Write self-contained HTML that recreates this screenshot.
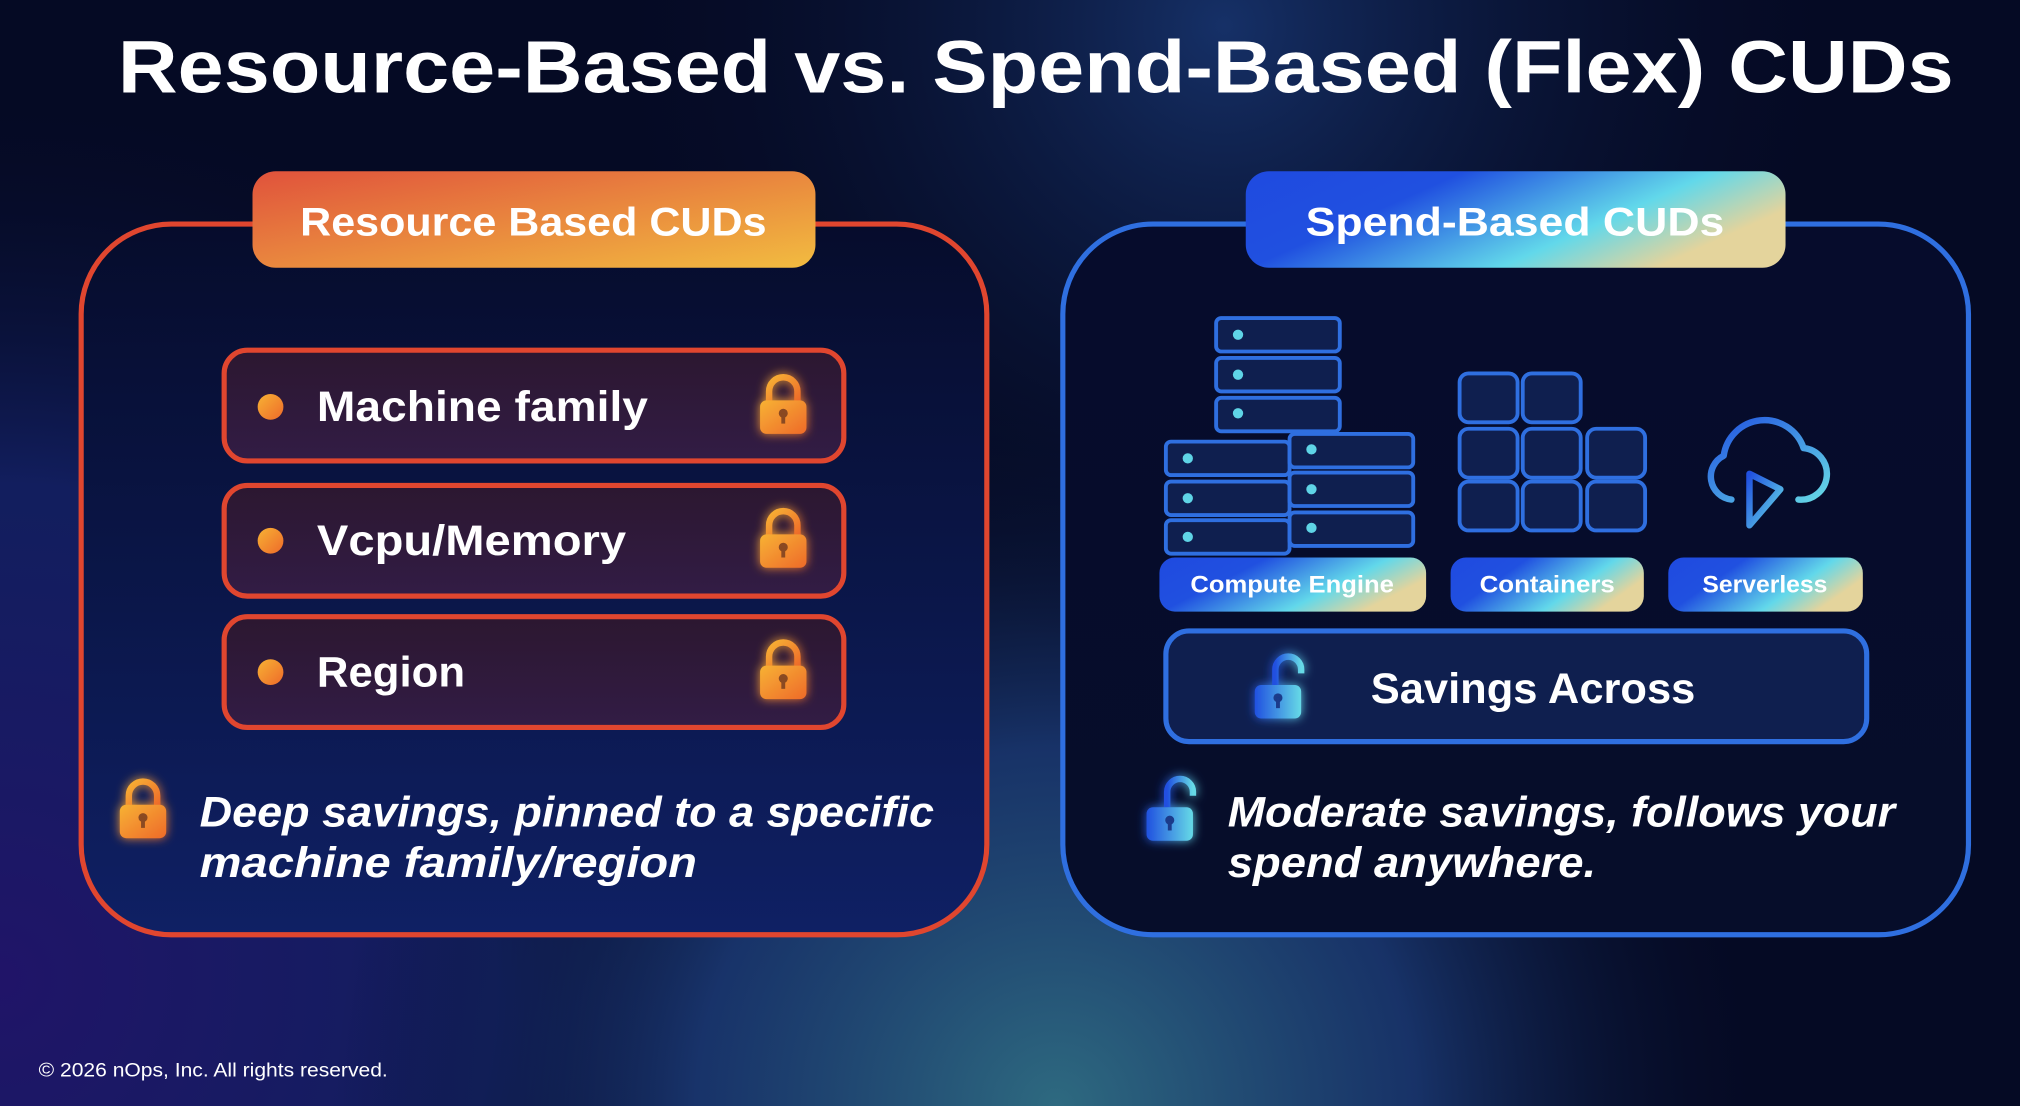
<!DOCTYPE html>
<html><head><meta charset="utf-8"><style>
html,body{margin:0;padding:0;background:#050a24;overflow:hidden}
svg{display:block}
text{font-family:"Liberation Sans",sans-serif;fill:#fff;font-weight:bold}
</style></head><body>
<svg width="2020" height="1106" viewBox="0 0 1568 859" preserveAspectRatio="none" xmlns="http://www.w3.org/2000/svg">
<defs>
<radialGradient id="bgTeal" cx="820" cy="860" r="560" gradientUnits="userSpaceOnUse">
<stop offset="0" stop-color="#2e6a80"/><stop offset="0.5" stop-color="#1c3c78" stop-opacity="0.8"/><stop offset="1" stop-color="#050a24" stop-opacity="0"/></radialGradient>
<radialGradient id="bgPurple" cx="0" cy="760" r="700" gradientUnits="userSpaceOnUse">
<stop offset="0" stop-color="#201468"/><stop offset="0.55" stop-color="#15236c" stop-opacity="0.8"/><stop offset="1" stop-color="#050a24" stop-opacity="0"/></radialGradient>
<radialGradient id="bgTop" cx="950" cy="20" r="500" gradientUnits="userSpaceOnUse">
<stop offset="0" stop-color="#1a3a78" stop-opacity="0.8"/><stop offset="1" stop-color="#050a24" stop-opacity="0"/></radialGradient>
<linearGradient id="gOr" x1="0" y1="0" x2="1" y2="1"><stop offset="0" stop-color="#e0523c"/><stop offset="1" stop-color="#f2bc40"/></linearGradient>
<linearGradient id="gBl" x1="0" y1="0" x2="1" y2="0.4"><stop offset="0" stop-color="#1f4ae0"/><stop offset="0.35" stop-color="#2050e0"/><stop offset="0.75" stop-color="#62d8ea"/><stop offset="1" stop-color="#e4d49c"/></linearGradient>
<linearGradient id="gLock" x1="0" y1="0" x2="1" y2="1"><stop offset="0" stop-color="#f7b234"/><stop offset="1" stop-color="#ee6a2a"/></linearGradient>
<linearGradient id="gLockB" x1="0" y1="0" x2="1" y2="0"><stop offset="0" stop-color="#2050e0"/><stop offset="1" stop-color="#66dae6"/></linearGradient>
<linearGradient id="gCloud" x1="0" y1="0" x2="1" y2="1"><stop offset="0" stop-color="#2050e0"/><stop offset="1" stop-color="#66dae6"/></linearGradient>
<linearGradient id="gItem" x1="0" y1="0" x2="0" y2="1"><stop offset="0" stop-color="#2c1730"/><stop offset="1" stop-color="#321c45"/></linearGradient>
<linearGradient id="gPanelL" x1="0" y1="0" x2="0" y2="1"><stop offset="0" stop-color="#060c2c"/><stop offset="1" stop-color="#0f2064"/></linearGradient>
<linearGradient id="gPanelR" x1="0" y1="0" x2="0" y2="1"><stop offset="0" stop-color="#060c2c"/><stop offset="1" stop-color="#060d2a"/></linearGradient>
<filter id="glow" x="-1" y="-1" width="3" height="3"><feGaussianBlur stdDeviation="4" result="b"/><feMerge><feMergeNode in="b"/><feMergeNode in="SourceGraphic"/></feMerge></filter>
</defs>
<rect width="1568" height="859" fill="#050a24"/>
<rect width="1568" height="859" fill="url(#bgPurple)"/>
<rect width="1568" height="859" fill="url(#bgTeal)"/>
<rect width="1568" height="859" fill="url(#bgTop)"/>

<text x="804" y="72" font-size="58" text-anchor="middle" textLength="1425" lengthAdjust="spacingAndGlyphs">Resource-Based vs. Spend-Based (Flex) CUDs</text>

<!-- Left panel -->
<rect x="63" y="174" width="703" height="552" rx="70" fill="url(#gPanelL)" stroke="#e0462f" stroke-width="4"/>
<rect x="196" y="133" width="437" height="75" rx="18" fill="url(#gOr)"/>
<text x="414" y="183" font-size="31" text-anchor="middle" textLength="362" lengthAdjust="spacingAndGlyphs">Resource Based CUDs</text>

<g>
<rect x="174" y="272" width="481" height="86" rx="18" fill="url(#gItem)" stroke="#e0462f" stroke-width="4"/>
<circle cx="210" cy="316" r="10" fill="url(#gLock)"/>
<text x="246" y="327" font-size="33" textLength="257" lengthAdjust="spacingAndGlyphs">Machine family</text>
<g transform="translate(608,316)" filter="url(#glow)"><path d="M-11,-4 v-8 a11,11 0 0 1 22,0 v8" fill="none" stroke="url(#gLock)" stroke-width="5"/><rect x="-18" y="-5" width="36" height="26" rx="5" fill="url(#gLock)"/><circle cx="0" cy="5" r="3.5" fill="#8a4a20"/><rect x="-1.5" y="5" width="3" height="8" fill="#8a4a20"/></g>
</g>
<g>
<rect x="174" y="377" width="481" height="86" rx="18" fill="url(#gItem)" stroke="#e0462f" stroke-width="4"/>
<circle cx="210" cy="420" r="10" fill="url(#gLock)"/>
<text x="246" y="431" font-size="33" textLength="240" lengthAdjust="spacingAndGlyphs">Vcpu/Memory</text>
<g transform="translate(608,420)" filter="url(#glow)"><path d="M-11,-4 v-8 a11,11 0 0 1 22,0 v8" fill="none" stroke="url(#gLock)" stroke-width="5"/><rect x="-18" y="-5" width="36" height="26" rx="5" fill="url(#gLock)"/><circle cx="0" cy="5" r="3.5" fill="#8a4a20"/><rect x="-1.5" y="5" width="3" height="8" fill="#8a4a20"/></g>
</g>
<g>
<rect x="174" y="479" width="481" height="86" rx="18" fill="url(#gItem)" stroke="#e0462f" stroke-width="4"/>
<circle cx="210" cy="522" r="10" fill="url(#gLock)"/>
<text x="246" y="533" font-size="33" textLength="115" lengthAdjust="spacingAndGlyphs">Region</text>
<g transform="translate(608,522)" filter="url(#glow)"><path d="M-11,-4 v-8 a11,11 0 0 1 22,0 v8" fill="none" stroke="url(#gLock)" stroke-width="5"/><rect x="-18" y="-5" width="36" height="26" rx="5" fill="url(#gLock)"/><circle cx="0" cy="5" r="3.5" fill="#8a4a20"/><rect x="-1.5" y="5" width="3" height="8" fill="#8a4a20"/></g>
</g>
<g transform="translate(111,630)" filter="url(#glow)"><path d="M-11,-4 v-8 a11,11 0 0 1 22,0 v8" fill="none" stroke="url(#gLock)" stroke-width="5"/><rect x="-18" y="-5" width="36" height="26" rx="5" fill="url(#gLock)"/><circle cx="0" cy="5" r="3.5" fill="#8a4a20"/><rect x="-1.5" y="5" width="3" height="8" fill="#8a4a20"/></g>
<text x="155" y="642" font-size="33" font-style="italic" textLength="570" lengthAdjust="spacingAndGlyphs">Deep savings, pinned to a specific</text>
<text x="155" y="681" font-size="33" font-style="italic" textLength="386" lengthAdjust="spacingAndGlyphs">machine family/region</text>

<!-- Right panel -->
<rect x="825" y="174" width="703" height="552" rx="70" fill="url(#gPanelR)" stroke="#2f6fe0" stroke-width="4"/>
<rect x="967" y="133" width="419" height="75" rx="18" fill="url(#gBl)"/>
<text x="1176" y="183" font-size="31" text-anchor="middle" textLength="325" lengthAdjust="spacingAndGlyphs">Spend-Based CUDs</text>

<g fill="#0f1f4f" stroke="#2f6fe0" stroke-width="3">
<rect x="944" y="247" width="96" height="26" rx="4"/>
<rect x="944" y="278" width="96" height="26" rx="4"/>
<rect x="944" y="309" width="96" height="26" rx="4"/>
<rect x="905" y="343" width="96" height="26" rx="4"/>
<rect x="905" y="374" width="96" height="26" rx="4"/>
<rect x="905" y="404" width="96" height="26" rx="4"/>
<rect x="1001" y="337" width="96" height="26" rx="4"/>
<rect x="1001" y="367" width="96" height="26" rx="4"/>
<rect x="1001" y="398" width="96" height="26" rx="4"/>
<rect x="1133" y="290" width="45" height="38" rx="7"/>
<rect x="1182" y="290" width="45" height="38" rx="7"/>
<rect x="1133" y="333" width="45" height="38" rx="7"/>
<rect x="1182" y="333" width="45" height="38" rx="7"/>
<rect x="1232" y="333" width="45" height="38" rx="7"/>
<rect x="1133" y="374" width="45" height="38" rx="7"/>
<rect x="1182" y="374" width="45" height="38" rx="7"/>
<rect x="1232" y="374" width="45" height="38" rx="7"/>
</g>
<g fill="#5fd4e6">
<circle cx="961" cy="260" r="4"/><circle cx="961" cy="291" r="4"/><circle cx="961" cy="321" r="4"/>
<circle cx="922" cy="356" r="4"/><circle cx="922" cy="387" r="4"/><circle cx="922" cy="417" r="4"/>
<circle cx="1018" cy="349" r="4"/><circle cx="1018" cy="380" r="4"/><circle cx="1018" cy="410" r="4"/>
</g>
<g fill="none" stroke="url(#gCloud)" stroke-width="5" stroke-linecap="round" stroke-linejoin="round">
<path d="M1344,388 a18,18 0 0 1 -6,-34 a32,32 0 0 1 62,-6 a18,18 0 0 1 -4,40"/>
<path d="M1358,368 l0,40 l24,-28 z"/>
</g>

<rect x="900" y="433" width="207" height="42" rx="12" fill="url(#gBl)"/>
<text x="1003" y="460" font-size="19" text-anchor="middle" textLength="158" lengthAdjust="spacingAndGlyphs">Compute Engine</text>
<rect x="1126" y="433" width="150" height="42" rx="12" fill="url(#gBl)"/>
<text x="1201" y="460" font-size="19" text-anchor="middle" textLength="105" lengthAdjust="spacingAndGlyphs">Containers</text>
<rect x="1295" y="433" width="151" height="42" rx="12" fill="url(#gBl)"/>
<text x="1370" y="460" font-size="19" text-anchor="middle" textLength="97" lengthAdjust="spacingAndGlyphs">Serverless</text>

<rect x="905" y="490" width="544" height="86" rx="18" fill="#0f1f4f" stroke="#2f6fe0" stroke-width="4"/>
<g transform="translate(992,538)" filter="url(#glow)"><path d="M-2,-6 v-12 a10,10 0 0 1 20,0 v3" fill="none" stroke="url(#gLockB)" stroke-width="5"/><rect x="-18" y="-6" width="36" height="26" rx="5" fill="url(#gLockB)"/><circle cx="0" cy="4" r="3.5" fill="#1a3a8a"/><rect x="-1.5" y="4" width="3" height="8" fill="#1a3a8a"/></g>
<text x="1190" y="546" font-size="33" text-anchor="middle" textLength="252" lengthAdjust="spacingAndGlyphs">Savings Across</text>

<g transform="translate(908,633)" filter="url(#glow)"><path d="M-2,-6 v-12 a10,10 0 0 1 20,0 v3" fill="none" stroke="url(#gLockB)" stroke-width="5"/><rect x="-18" y="-6" width="36" height="26" rx="5" fill="url(#gLockB)"/><circle cx="0" cy="4" r="3.5" fill="#1a3a8a"/><rect x="-1.5" y="4" width="3" height="8" fill="#1a3a8a"/></g>
<text x="953" y="642" font-size="33" font-style="italic" textLength="518" lengthAdjust="spacingAndGlyphs">Moderate savings, follows your</text>
<text x="953" y="681" font-size="33" font-style="italic" textLength="286" lengthAdjust="spacingAndGlyphs">spend anywhere.</text>

<text x="30" y="836" font-size="15" style="font-weight:normal" fill="#e6e6ee" textLength="271" lengthAdjust="spacingAndGlyphs">© 2026 nOps, Inc. All rights reserved.</text>
</svg>
</body></html>
